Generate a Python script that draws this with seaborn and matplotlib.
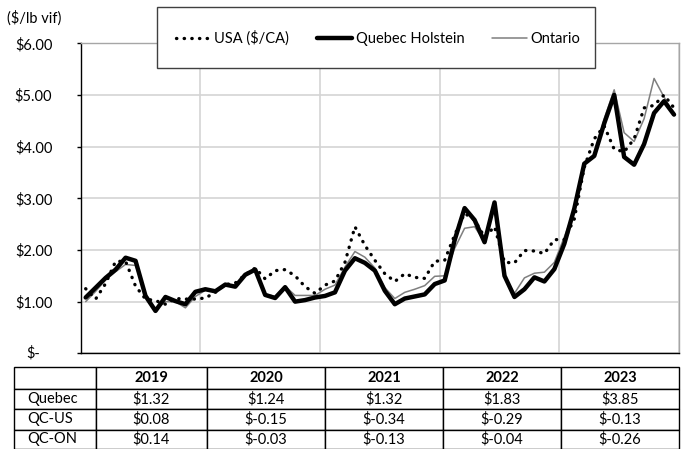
import numpy as np
import pandas as pd
import matplotlib
matplotlib.use("Agg")
import matplotlib.pyplot as plt
import seaborn as sns
from matplotlib.patches import Rectangle
from matplotlib.lines import Line2D

# ---------------- data ----------------
years = [2019, 2020, 2021, 2022, 2023]

quebec = [
    1.08, 1.27, 1.46, 1.62, 1.85, 1.79, 1.11, 0.82, 1.09, 1.01, 0.95, 1.19,
    1.24, 1.20, 1.33, 1.29, 1.52, 1.62, 1.13, 1.07, 1.28, 1.00, 1.03, 1.08,
    1.11, 1.18, 1.60, 1.84, 1.75, 1.60, 1.21, 0.95, 1.06, 1.10, 1.14, 1.34,
    1.41, 2.19, 2.81, 2.58, 2.15, 2.92, 1.50, 1.09, 1.24, 1.47, 1.39, 1.63,
    2.12, 2.80, 3.67, 3.82, 4.45, 5.00, 3.80, 3.65, 4.05, 4.65, 4.88, 4.62]
usa = [
    1.25, 1.05, 1.35, 1.78, 1.78, 1.30, 1.05, 1.02, 0.95, 1.06, 1.05, 1.05,
    1.07, 1.18, 1.33, 1.36, 1.52, 1.65, 1.44, 1.60, 1.62, 1.50, 1.29, 1.16,
    1.32, 1.40, 1.76, 2.45, 2.09, 1.80, 1.54, 1.39, 1.54, 1.47, 1.45, 1.78,
    1.80, 2.29, 2.71, 2.58, 2.25, 2.45, 1.76, 1.75, 1.99, 1.98, 1.93, 2.20,
    2.20, 2.60, 3.60, 4.15, 4.40, 3.95, 3.90, 4.15, 4.75, 4.80, 5.00, 4.75]
ontario = [
    1.00, 1.20, 1.42, 1.58, 1.72, 1.70, 1.15, 0.85, 1.00, 1.00, 0.88, 1.10,
    1.22, 1.22, 1.30, 1.30, 1.50, 1.62, 1.15, 1.10, 1.30, 1.12, 1.12, 1.12,
    1.24, 1.32, 1.67, 1.97, 1.86, 1.65, 1.27, 1.06, 1.18, 1.24, 1.31, 1.49,
    1.50, 2.03, 2.42, 2.45, 2.16, 2.85, 1.47, 1.16, 1.46, 1.55, 1.57, 1.76,
    2.25, 2.77, 3.69, 3.83, 4.54, 5.10, 4.27, 4.10, 4.54, 5.32, 4.96, 4.63]

series_labels = ["USA ($/CA)", "Quebec Holstein", "Ontario"]
ytick_labels = ["$-", "$1.00", "$2.00", "$3.00", "$4.00", "$5.00", "$6.00"]
unit_label = "($/lb vif)"

row_labels = ["Quebec", "QC-US", "QC-ON"]
quebec_avg = [1.32, 1.24, 1.32, 1.83, 3.85]
qc_us = [0.08, -0.15, -0.34, -0.29, -0.13]
qc_on = [0.14, -0.03, -0.13, -0.04, -0.26]

# ---------------- frame ----------------
month_pos = [y + (m + 0.5) / 12 for y in years for m in range(12)]
df = pd.DataFrame({"t": month_pos, "usa": usa, "quebec": quebec, "ontario": ontario})

sns.set_theme(style="white")
plt.rcParams["font.family"] = ["Lato", "DejaVu Sans"]
plt.rcParams["text.color"] = "black"
plt.rcParams["xtick.color"] = "black"
plt.rcParams["ytick.color"] = "black"

W, H = 687, 449
fig = plt.figure(figsize=(W / 100, H / 100), dpi=100)
fig.patch.set_facecolor("white")

L, R, T, B = 80.7, 679.0, 43.3, 353.3
ax = fig.add_axes([L / W, 1 - B / H, (R - L) / W, (B - T) / H])
ax.set_facecolor("white")

sns.lineplot(data=df, x="t", y="ontario", ax=ax, color="#7f7f7f", lw=1.1, zorder=3)
sns.lineplot(data=df, x="t", y="quebec", ax=ax, color="black", lw=3.2, zorder=4,
             solid_joinstyle="round", solid_capstyle="round")
sns.lineplot(data=df, x="t", y="usa", ax=ax, color="black", lw=2.4, zorder=5,
             linestyle=(0, (0.1, 2.2)), dash_capstyle="round")

ax.set_xlim(years[0], years[-1] + 1)
ax.set_ylim(0, 6)
ax.set_xlabel("")
ax.set_ylabel("")
ax.set_xticks(years + [years[-1] + 1])
ax.set_xticklabels([])
ax.tick_params(axis="x", length=0)
ax.set_yticks(range(7))
ax.set_yticklabels([""] + ytick_labels[1:], fontsize=10.5)
ax.tick_params(axis="y", length=3, width=1, direction="out", pad=17.5, left=True)
ax.grid(True, color="#d4d4d4", lw=1.2)
ax.set_axisbelow(True)
for s in ["left", "bottom"]:
    ax.spines[s].set_color("black")
    ax.spines[s].set_linewidth(1.0)
for s in ["top", "right"]:
    ax.spines[s].set_color("#a6a6a6")
    ax.spines[s].set_linewidth(1.0)
    ax.spines[s].set_visible(True)

ax.text(-(L - 40) / (R - L), 0, ytick_labels[0], transform=ax.get_yaxis_transform(),
        ha="right", va="center", fontsize=10.5)
fig.text(7 / W, 1 - 18 / H, unit_label, ha="left", va="center", fontsize=10.5)

# ---------------- legend ----------------
box = Rectangle((157 / W, 1 - 68 / H), (595 - 157) / W, (68 - 7) / H,
                transform=fig.transFigure, facecolor="white", edgecolor="#404040",
                lw=1.0, zorder=3)
fig.add_artist(box)
handles = [
    Line2D([], [], color="black", lw=2.4, linestyle=(0, (0.1, 2.2)), dash_capstyle="round"),
    Line2D([], [], color="black", lw=3.2),
    Line2D([], [], color="#7f7f7f", lw=1.1),
]
leg = fig.legend(handles, series_labels, loc="center", bbox_to_anchor=(378 / W, 1 - 38 / H),
                 ncol=3, frameon=False, fontsize=10.5, handlelength=2.4,
                 handletextpad=0.25, columnspacing=1.9, borderpad=0)
leg.set_zorder(4)

# ---------------- table ----------------
fmt = lambda v: f"${v:.2f}"
cell_text = [[""] + [str(y) for y in years],
             [""] + [fmt(v) for v in quebec_avg],
             [""] + [fmt(v) for v in qc_us],
             [""] + [fmt(v) for v in qc_on]]
tL, tR, tT, tB = 14.0, 679.0, 367.0, 448.5
tax = fig.add_axes([tL / W, 1 - tB / H, (tR - tL) / W, (tB - tT) / H])
tax.axis("off")
tax.set_xlim(0, 1)
tax.set_ylim(0, 1)
col_w = [82, 111, 118, 118, 118, 118]
tbl = tax.table(cellText=cell_text, colWidths=[c / sum(col_w) for c in col_w],
                cellLoc="center", bbox=[0, 0, 1, 1])
tbl.auto_set_font_size(False)
tbl.set_fontsize(10.5)
row_h = [22, 20, 21, 19]
for (r, c), cell in tbl.get_celld().items():
    cell.set_height(row_h[r] / sum(row_h))
    cell.set_edgecolor("black")
    cell.set_linewidth(1.0)
    cell.set_facecolor("white")
    if r == 0:
        cell.get_text().set_fontweight("bold")

# row labels, left aligned inside the first column
tot_h = sum(row_h)
y_top = 1.0
for r, lab in enumerate(row_labels, start=1):
    y_center = 1.0 - (sum(row_h[:r]) + row_h[r] / 2) / tot_h
    tax.text((27 - tL) / (tR - tL), y_center, lab, ha="left", va="center",
             fontsize=10.5, zorder=10)

fig.savefig("out.png", dpi=100, facecolor="white")
